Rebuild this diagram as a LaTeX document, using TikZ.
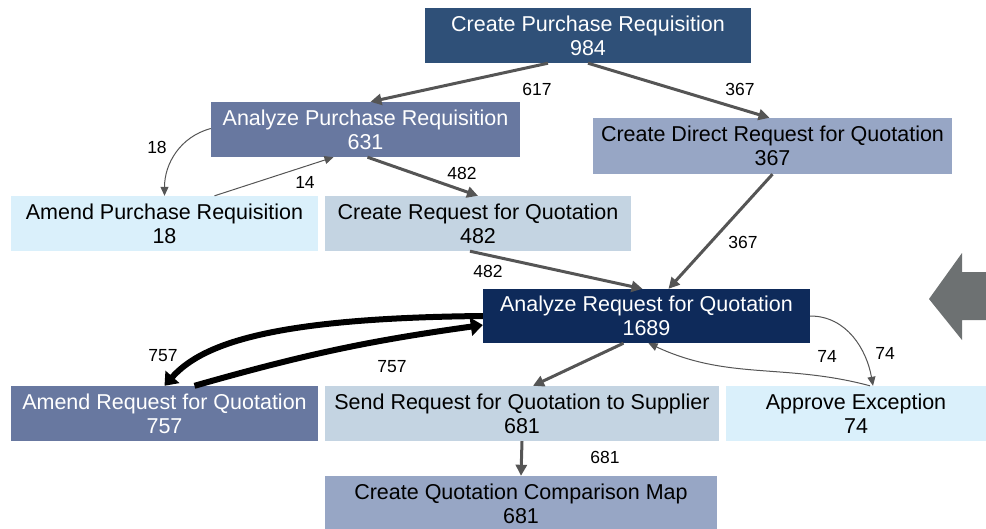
\documentclass[tikz,border=0pt]{standalone}
\usepackage{fontspec}
\setmainfont{Liberation Sans}
\usetikzlibrary{arrows.meta}

\definecolor{navyfill}{HTML}{0E2A5A}
\definecolor{darkfill}{HTML}{2F5078}
\definecolor{slatefill}{HTML}{6878A0}
\definecolor{midfill}{HTML}{97A6C5}
\definecolor{palefill}{HTML}{C4D4E2}
\definecolor{cyanfill}{HTML}{DAF0FB}
\definecolor{flowgray}{HTML}{555555}
\definecolor{pointergray}{HTML}{6D7172}

\tikzset{
  task/.style={rectangle, inner sep=0pt, align=center, minimum height=55pt,
    font=\fontsize{21.5}{24}\selectfont},
  flow/.style={draw=flowgray, line width=3pt, -{Triangle[length=11pt,width=11pt]}},
  fineflow/.style={draw=flowgray, line width=1pt, -{Triangle[length=9pt,width=8pt]}},
  heavyflow/.style={draw=black, line width=6pt, -{Triangle[length=12pt,width=18pt]}},
  lbl/.style={inner sep=0pt, font=\fontsize{17.5}{19}\selectfont}
}

\begin{document}
\begin{tikzpicture}[x=1pt,y=-1pt]
 \useasboundingbox (0,0) rectangle (986,528);

 % activities
 \node[task, fill=darkfill, text=white, minimum width=326pt] (cpr) at (588,35.5) {Create Purchase Requisition\\984};
 \node[task, fill=slatefill, text=white, minimum width=309pt] (apr) at (365.5,129.5) {Analyze Purchase Requisition\\631};
 \node[task, fill=midfill, minimum width=359pt, minimum height=56pt] (cdr) at (772.5,146) {Create Direct Request for Quotation\\367};
 \node[task, fill=cyanfill, minimum width=307pt] (amp) at (164.5,223.5) {Amend Purchase Requisition\\18};
 \node[task, fill=palefill, minimum width=306pt] (crfq) at (478,223.5) {Create Request for Quotation\\482};
 \node[task, fill=navyfill, text=white, minimum width=327pt, minimum height=54pt] (arfq) at (646.5,316) {Analyze Request for Quotation\\1689};
 \node[task, fill=slatefill, text=white, minimum width=307pt] (amrfq) at (164.5,413.5) {Amend Request for Quotation\\757};
 \node[task, fill=palefill, minimum width=394pt] (send) at (522,413.5) {Send Request for Quotation to Supplier\\681};
 \node[task, fill=cyanfill, minimum width=260pt] (ape) at (856,413.5) {Approve Exception\\74};
 \node[task, fill=midfill, minimum width=392pt] (map) at (521,503.5) {Create Quotation Comparison Map\\681};

 % flows between the activities
 \draw[flow] ([xshift=-40pt]cpr.south) -- ([xshift=5pt]apr.north);
 \draw[flow] (cpr.south) -- ([xshift=-3pt]cdr.north);
 \draw[fineflow] ([yshift=1pt]apr.west) to[out=195,in=90] (amp.north); % rework
 \draw[fineflow] ([xshift=50pt]amp.north) -- ([xshift=-32pt]apr.south);
 \draw[flow] ([xshift=2pt]apr.south) -- (crfq.north);
 \draw[flow] (cdr.south) -- ([xshift=22pt]arfq.north);
 \draw[flow] ([xshift=-8pt]crfq.south) -- ([xshift=-4pt]arfq.north);
 \draw[heavyflow] (arfq.west) .. controls +(-200,2) and +(40,-45) .. (amrfq.north); % loop out
 \draw[heavyflow] ([xshift=30pt]amrfq.north) to[bend left=4] ([yshift=-9pt]arfq.west); % loop back
 \draw[flow] ([xshift=-23pt]arfq.south) -- ([xshift=11pt]send.north);
 \draw[fineflow] (arfq.east) to[out=0,in=100] ([xshift=17pt]ape.north);
 \draw[fineflow] ([xshift=14pt]ape.north) to[out=165,in=-25] ([xshift=2pt]arfq.south);
 \draw[flow] (send.south) -- (map.north);

 % frequencies
 \node[lbl] (n617) at (537,89) {617};
 \node[lbl] (n367a) at (740,89) {367};
 \node[lbl] (n18) at (157,147) {18};
 \node[lbl] (n14) at (305,182) {14};
 \node[lbl] (n482a) at (462,173) {482};
 \node[lbl] (n367b) at (743,242) {367};
 \node[lbl] (n482b) at (488,271) {482};
 \node[lbl] (n757a) at (163,356) {757};
 \node[lbl] (n757b) at (392,367) {757};
 \node[lbl] (n74a) at (827,356) {74};
 \node[lbl] (n74b) at (885,353) {74};
 \node[lbl] (n681) at (605,457) {681};

 % pointer on the right edge
 \fill[pointergray] (929,299) -- (962,253) -- (962,272) -- (986,272) -- (986,320) -- (962,320) -- (962,340) -- cycle;

\end{tikzpicture}
\end{document}
